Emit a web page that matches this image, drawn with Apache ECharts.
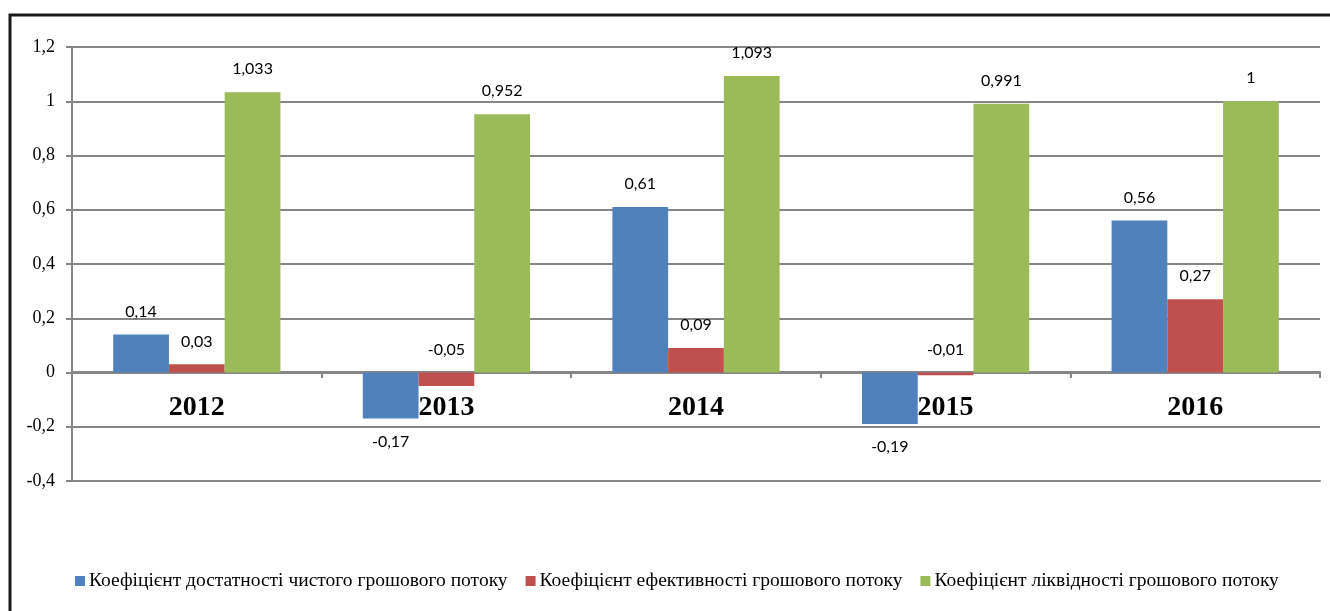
<!DOCTYPE html>
<html>
<head>
<meta charset="utf-8">
<script src="https://cdn.jsdelivr.net/npm/echarts@6/dist/echarts.min.js"></script>
<style>
  html, body { margin: 0; padding: 0; background: #fff; }
  #chart { width: 1330px; height: 611px; }
</style>
</head>
<body>
<div id="chart"></div>
<script>
// data
const years = ['2012', '2013', '2014', '2015', '2016'];
const seriesNames = [
    'Коефіцієнт достатності чистого грошового потоку',
    'Коефіцієнт ефективності грошового потоку',
    'Коефіцієнт ліквідності грошового потоку'
];
const sufficiency = [0.14, -0.17, 0.61, -0.19, 0.56];
const efficiency = [0.03, -0.05, 0.09, -0.01, 0.27];
const liquidity = [1.033, 0.952, 1.093, 0.991, 1];
const colors = ['#4F81BD', '#C0504D', '#9BBB59'];

const serif = '"Liberation Serif", "Times New Roman", serif';

function comma(v){
    return String(v).replace('.', ',');
}

// negative values: blue label under the bar, red label above the zero line
function points(arr, negPos){
    return arr.map(function(v){
        return {
            value: v,
            label: { position: v < 0 ? negPos : 'top' }
        };
    });
}

const myChart = echarts.init(document.getElementById('chart'));

const labelStyle = {
    show: true,
    fontFamily: 'Lato',
    fontSize: 16,
    color: '#000',
    distance: 15,
    formatter: function(p){ return comma(p.value); }
};

myChart.setOption({
    animation: false,
    color: colors,
    graphic: [{
        type: 'rect',
        shape: { x: 10, y: 15, width: 1340, height: 700 },
        style: { fill: 'none', stroke: '#1a1a1a', lineWidth: 3 },
        silent: true
    }],
    grid: { left: 72, right: 10, top: 47, bottom: 130, containLabel: false },
    legend: {
        top: 566,
        left: 70,
        itemWidth: 10,
        itemHeight: 10,
        itemGap: 18,
        icon: 'rect',
        textStyle: { fontFamily: serif, fontSize: 19.5, color: '#000', padding: [0, 0, 0, -1] },
        data: seriesNames
    },
    xAxis: [{
        // bottom line of the plot
        type: 'category',
        data: years,
        axisLine: { onZero: false, lineStyle: { color: '#868686', width: 2 } },
        axisTick: { show: false },
        axisLabel: { show: false }
    }, {
        // zero line with the year labels, moved up from the bottom
        type: 'category',
        data: years,
        position: 'bottom',
        offset: -109,
        axisLine: { onZero: false, lineStyle: { color: '#868686', width: 2 } },
        axisTick: { show: true, length: 6, lineStyle: { color: '#868686', width: 2 } },
        axisLabel: {
            margin: 22,
            fontFamily: serif,
            fontWeight: 'bold',
            fontSize: 28,
            color: '#000'
        }
    }],
    yAxis: {
        type: 'value',
        min: -0.4,
        max: 1.2,
        interval: 0.2,
        axisLine: { show: true, lineStyle: { color: '#868686', width: 2 } },
        axisTick: { show: true, length: 6, lineStyle: { color: '#868686', width: 2 } },
        splitLine: { lineStyle: { color: '#868686', width: 2 } },
        axisLabel: {
            margin: 17,
            fontFamily: serif,
            fontSize: 18,
            color: '#000',
            formatter: function(v){ return comma(Math.round(v * 10) / 10); }
        }
    },
    series: [
        {
            name: seriesNames[0], type: 'bar', barGap: '0%', barCategoryGap: '33%',
            data: points(sufficiency, 'bottom'), label: labelStyle
        },
        {
            name: seriesNames[1], type: 'bar', barGap: '0%', barCategoryGap: '33%',
            data: points(efficiency, 'top'), label: labelStyle
        },
        {
            name: seriesNames[2], type: 'bar', barGap: '0%', barCategoryGap: '33%',
            data: points(liquidity, 'top'), label: labelStyle
        }
    ]
});
</script>
</body>
</html>
